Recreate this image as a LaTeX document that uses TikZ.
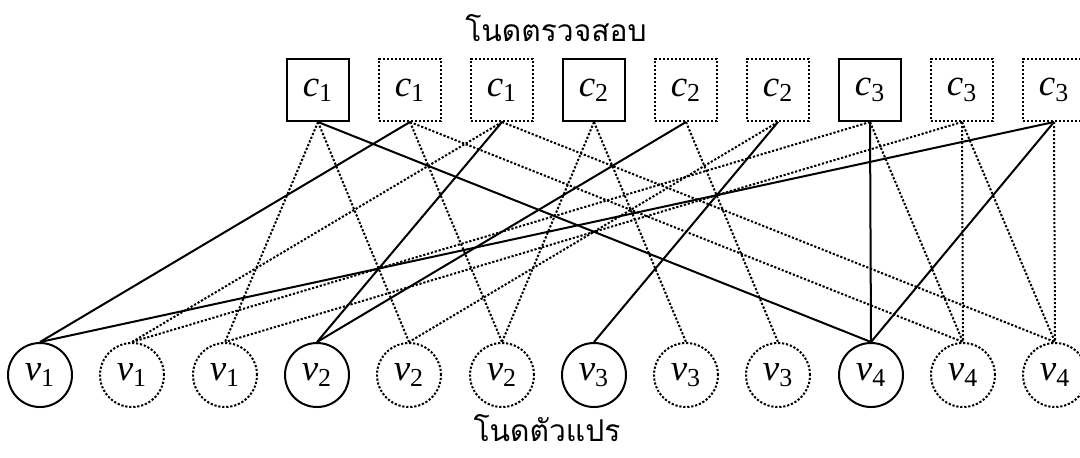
\documentclass[tikz,border=0pt]{standalone}
\usepackage{fontspec}
\setmainfont{Liberation Serif}
\newfontfamily\thaifont[Script=Thai]{Loma}
\begin{document}
\begin{tikzpicture}[x = 0.5pt, y = -0.5pt,
        chk/.style = {draw, line width = 1pt, minimum size = 31pt, inner sep = 0pt, font = \fontsize{18.5}{22}\selectfont},
        var/.style = {draw, circle, line width = 1pt, minimum size = 32pt, inner sep = 0pt, font = \fontsize{18.5}{22}\selectfont},
        lifted/.style = {dash pattern = on 1.1pt off 0.9pt},
        edge/.style = {line width = 1pt},
        caption/.style = {font = \thaifont\fontsize{15}{18}\selectfont}]
        \useasboundingbox (0,0) rectangle (1080,457);
        % check nodes, three copies of c1, c2, c3
        \node[chk] (c1a) at (318,90) {\textit{c}\textsubscript{1}};
        \node[chk, lifted] (c1b) at (410,90) {\textit{c}\textsubscript{1}};
        \node[chk, lifted] (c1c) at (502,90) {\textit{c}\textsubscript{1}};
        \node[chk] (c2a) at (594,90) {\textit{c}\textsubscript{2}};
        \node[chk, lifted] (c2b) at (686,90) {\textit{c}\textsubscript{2}};
        \node[chk, lifted] (c2c) at (778,90) {\textit{c}\textsubscript{2}};
        \node[chk] (c3a) at (870,90) {\textit{c}\textsubscript{3}};
        \node[chk, lifted] (c3b) at (962,90) {\textit{c}\textsubscript{3}};
        \node[chk, lifted] (c3c) at (1054,90) {\textit{c}\textsubscript{3}};
        % variable nodes, three copies of v1 ... v4
        \node[var] (v1a) at (40,375) {\textit{v}\textsubscript{1}};
        \node[var, lifted] (v1b) at (132,375) {\textit{v}\textsubscript{1}};
        \node[var, lifted] (v1c) at (225,375) {\textit{v}\textsubscript{1}};
        \node[var] (v2a) at (317,375) {\textit{v}\textsubscript{2}};
        \node[var, lifted] (v2b) at (409,375) {\textit{v}\textsubscript{2}};
        \node[var, lifted] (v2c) at (502,375) {\textit{v}\textsubscript{2}};
        \node[var] (v3a) at (594,375) {\textit{v}\textsubscript{3}};
        \node[var, lifted] (v3b) at (686,375) {\textit{v}\textsubscript{3}};
        \node[var, lifted] (v3c) at (778,375) {\textit{v}\textsubscript{3}};
        \node[var] (v4a) at (871,375) {\textit{v}\textsubscript{4}};
        \node[var, lifted] (v4b) at (963,375) {\textit{v}\textsubscript{4}};
        \node[var, lifted] (v4c) at (1055,375) {\textit{v}\textsubscript{4}};
        \node[caption] (checks) at (556,28) {โนดตรวจสอบ};
        \node[caption] (vars) at (547,428) {โนดตัวแปร};
        % edges of the first copy
        \begin{scope}[edge]
            \draw (c1a.south) -- (v4a.north);
            \draw (c1b.south) -- (v1a.north);
            \draw (c1c.south) -- (v2a.north);
            \draw (c2b.south) -- (v2a.north);
            \draw (c2c.south) -- (v3a.north);
            \draw (c3a.south) -- (v4a.north);
            \draw (c3c.south) -- (v1a.north);
            \draw (c3c.south) -- (v4a.north);
        \end{scope}
        % edges of the other two copies
        \begin{scope}[edge, lifted]
            \draw (c1a.south) -- (v1c.north);
            \draw (c1a.south) -- (v2b.north);
            \draw (c1b.south) -- (v2c.north);
            \draw (c1b.south) -- (v4b.north);
            \draw (c1c.south) -- (v1b.north);
            \draw (c1c.south) -- (v4c.north);
            \draw (c2a.south) -- (v2c.north);
            \draw (c2a.south) -- (v3b.north);
            \draw (c2b.south) -- (v3c.north);
            \draw (c2c.south) -- (v2b.north);
            \draw (c3a.south) -- (v1b.north);
            \draw (c3a.south) -- (v4b.north);
            \draw (c3b.south) -- (v1c.north);
            \draw (c3b.south) -- (v4b.north);
            \draw (c3b.south) -- (v4c.north);
            \draw (c3c.south) -- (v4c.north);
        \end{scope}
    \end{tikzpicture}
\end{document}
